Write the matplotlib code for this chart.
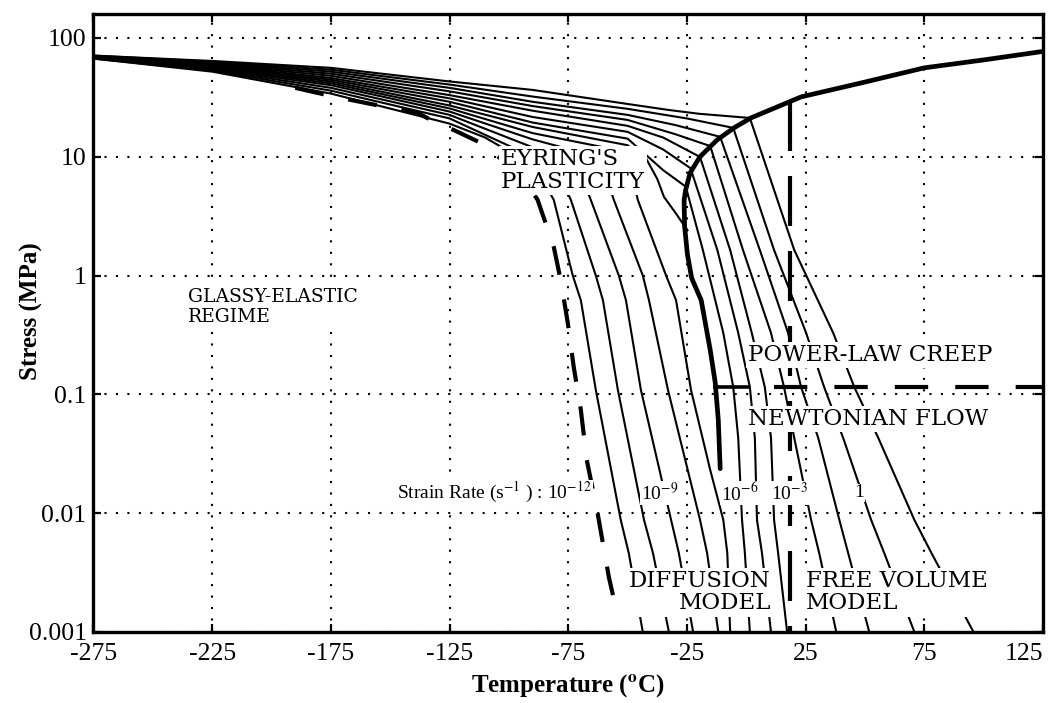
import matplotlib
matplotlib.use("Agg")
import matplotlib.pyplot as plt
from matplotlib.ticker import FixedLocator, FixedFormatter, NullLocator

plt.rcParams['mathtext.fontset'] = 'stix'

# ---------------- data (temperature degC, stress MPa) ----------------
x_ticks = [-275, -225, -175, -125, -75, -25, 25, 75, 125]
x_tick_labels = ["-275", "-225", "-175", "-125", "-75", "-25", "25", "75", "125"]
y_ticks = [0.001, 0.01, 0.1, 1, 10, 100]
y_tick_labels = ["0.001", "0.01", "0.1", "1", "10", "100"]

# thin iso-strain-rate curves, "L" = turn down in the diffusion field
L1_T = [-275, -225, -175, -125, -110, -98, -89, -84, -81.1, -73.1, -69.7, -63.4, -52.9, -49.5, -43.6]
L1_S = [67, 52, 34, 19.0, 14.5, 10.5, 7.2, 5.5, 4.33, 1.0, 0.62, 0.109, 0.0088, 0.0046, 0.001]
L2_T = [-275, -225, -175, -125, -90, -82, -77, -73.9, -63.4, -60.4, -54.1, -43.1, -39.3, -32.6]
L2_S = [67, 53, 36, 21.0, 10.0, 7.8, 5.9, 4.33, 1.0, 0.62, 0.109, 0.0088, 0.0046, 0.001]
L3_T = [-275, -225, -175, -125, -90, -80, -72, -67.8, -65.5, -53.7, -50.7, -44.4, -31.7, -28.4, -22.4]
L3_S = [68, 54, 38, 22.5, 12.0, 10.0, 7.5, 5.7, 4.33, 1.0, 0.62, 0.109, 0.0088, 0.0046, 0.001]
L4_T = [-275, -225, -175, -125, -90, -72, -63, -58.5, -55.8, -43.6, -41.0, -33.0, -19.5, -16.5, -11.8]
L4_S = [68, 55, 40, 24.0, 14.0, 11.2, 8.8, 6.3, 4.33, 1.0, 0.62, 0.109, 0.0088, 0.0046, 0.001]
L5_T = [-275, -225, -175, -125, -90, -60, -52, -48, -45.7, -33.8, -29.6, -23.3, -15.2, -9.7, -8.0, -6.8]
L5_S = [68, 56, 41.5, 25.5, 15.8, 12.0, 9.3, 6.8, 4.33, 1.0, 0.62, 0.109, 0.0231, 0.0088, 0.0046, 0.001]
L6_T = [-275, -225, -175, -125, -90, -50, -42, -37.5, -34.7, -29.5, -24.8]
L6_S = [69, 57, 43, 27.0, 17.8, 12.5, 9.5, 6.5, 4.6, 3.3, 2.4]

# "P" = cross the yield boundary into power-law creep / Newtonian flow
P1_T = [-275, -225, -175, -125, -90, -50, -35, -25.5, -18.3, -9.7, -5.5, -3.4, -1.8, -0.6, 1.5]
P1_S = [69, 58, 44.5, 29, 19.4, 14.2, 7.7, 5.6, 1.64, 0.329, 0.115, 0.043, 0.00877, 0.00462, 0.001]
P2_T = [-275, -225, -175, -125, -90, -50, -35, -23.5, -12.2, -3.4, 1.5, 3.6, 4.5, 6.6, 10.4]
P2_S = [69, 59, 46, 31, 21.6, 16.2, 11.5, 8.0, 1.64, 0.329, 0.115, 0.043, 0.00877, 0.00462, 0.001]
P3_T = [-275, -225, -175, -125, -90, -50, -35, -19.5, -6.8, 2.3, 7.8, 10.4, 11.7, 13.4, 17.2]
P3_S = [70, 60, 48, 33, 24.4, 18.2, 14.5, 9.96, 1.64, 0.329, 0.115, 0.043, 0.00877, 0.00462, 0.001]
P4_T = [-275, -225, -175, -125, -90, -50, -30, -15.2, -1.4, 10.4, 15.9, 20.2, 27.3, 30.7, 37.9]
P4_S = [70, 61, 50, 35.5, 26.7, 20.4, 15.5, 12.3, 1.64, 0.329, 0.115, 0.043, 0.00877, 0.00462, 0.001]
P5_T = [-275, -225, -175, -125, -90, -50, -30, -11.0, 5.7, 17.6, 23.1, 30.3, 39.2, 42.9, 51.8]
P5_S = [70, 62, 52, 38, 29.0, 22.5, 18.5, 14.7, 1.64, 0.329, 0.115, 0.043, 0.00877, 0.00462, 0.001]
P6_T = [-275, -225, -175, -125, -90, -50, -25, -5.5, 11.7, 25.2, 32.8, 40.8, 52.6, 58.1, 70.8]
P6_S = [71, 63, 54, 40.5, 32.1, 25.3, 21.0, 17.5, 1.64, 0.329, 0.115, 0.043, 0.00877, 0.00462, 0.001]
P7_T = [-275, -225, -175, -125, -90, -50, -33, -20, 1.5, 20.2, 36.6, 45.5, 55.6, 70.8, 78.0, 95.7]
P7_S = [71, 64, 56, 43, 36.5, 27.8, 24.8, 23.0, 21.2, 1.64, 0.329, 0.115, 0.043, 0.00877, 0.00462, 0.001]

# thick solid yield boundary
bound_T = [125, 100, 75, 48.4, 23.1, 1.9, -5.2, -12.4, -19.5, -23.7, -25.6, -26.2,
           -26.0, -24.8, -23.0, -19.0, -15.2, -13.1, -11.8, -11.0]
bound_S = [77, 65.3, 56, 41.8, 31.9, 21.2, 17.5, 13.8, 10.0, 7.3, 5.2, 4.33,
           2.6, 1.5, 0.95, 0.62, 0.236, 0.126, 0.061, 0.0237]

# thick dashed boundary (glassy / diffusion)
glass_T = [-190, -175, -155, -138.5, -128.8, -123.3, -111.9, -100, -92, -87.9, -81.1, -78.2,
           -75.2, -72.7, -69.7, -67.2, -62.6, -57.9, -54.1]
glass_S = [38, 32.5, 27, 23.4, 18.5, 16.8, 13.1, 8.5, 5.8, 4.33, 1.74, 0.918,
           0.399, 0.170, 0.074, 0.028, 0.0099, 0.0029, 0.00134]

# power-law creep / Newtonian flow transition
creep_stress = 0.115
creep_solid_T = [-13.1, 0.7]
creep_dash_T = [11.7, 125]
# diffusion / free-volume transition
free_vol_T = 18.5
free_vol_S = [29.5, 0.001]

thin_curves = [(L1_T, L1_S), (L2_T, L2_S), (L3_T, L3_S), (L4_T, L4_S), (L5_T, L5_S), (L6_T, L6_S),
               (P1_T, P1_S), (P2_T, P2_S), (P3_T, P3_S), (P4_T, P4_S), (P5_T, P5_S), (P6_T, P6_S),
               (P7_T, P7_S)]

# ---------------- figure ----------------
fig = plt.figure(figsize=(10.54, 7.03), dpi=100)
ax = fig.add_axes([0.0887, 0.1010, 0.9009, 0.8791])
ax.set_yscale('log')
ax.set_xlim(-275, 125)
ax.set_ylim(0.001, 159)

for T, S in thin_curves:
    ax.plot(T, S, color='black', lw=1.5, solid_joinstyle='round', zorder=3)

ax.plot(bound_T, bound_S, color='black', lw=3.4, solid_joinstyle='round', solid_capstyle='round', zorder=4)
ax.plot(glass_T, glass_S, color='black', lw=3.0, dashes=(7, 6), zorder=4)
ax.plot(creep_solid_T, [creep_stress, creep_stress], color='black', lw=2.6, zorder=4)
ax.plot(creep_dash_T, [creep_stress, creep_stress], color='black', lw=3.0, dashes=(8, 6.5), zorder=4)
ax.plot([free_vol_T, free_vol_T], free_vol_S, color='black', lw=3.0, dashes=(12, 6), zorder=4)

# axes styling
ax.xaxis.set_major_locator(FixedLocator(x_ticks))
ax.xaxis.set_major_formatter(FixedFormatter(x_tick_labels))
ax.yaxis.set_major_locator(FixedLocator(y_ticks))
ax.yaxis.set_major_formatter(FixedFormatter(y_tick_labels))
ax.yaxis.set_minor_locator(NullLocator())
ax.tick_params(axis='both', which='major', direction='in', length=6, width=1.6,
               top=True, right=True, labelsize=18.5)
ax.tick_params(axis='x', pad=8)
ax.tick_params(axis='y', pad=5)
fig.canvas.draw()
for lab in ax.get_xticklabels() + ax.get_yticklabels():
    lab.set_fontfamily('Liberation Serif')
ax.get_xticklabels()[-1].set_horizontalalignment('right')
for sp in ax.spines.values():
    sp.set_linewidth(2.4)
ax.grid(True, which='major', color='black', linestyle=(0, (1, 4.5)), lw=1.5, zorder=1)
ax.set_axisbelow(True)

ax.set_xlabel("Temperature ($\\mathbf{^o}$C)", fontsize=18, fontweight='bold',
              family='Liberation Serif', labelpad=5)
ax.set_ylabel("Stress (MPa)", fontsize=18, fontweight='bold', family='Liberation Serif')
ax.yaxis.set_label_coords(-0.053, 0.52)

box = dict(facecolor='white', edgecolor='none', pad=1.5)
lab_kw = dict(family='DejaVu Serif', fontsize=16.5, color='black', zorder=6, linespacing=1.05)

ax.text(-103.5, 7.7, "EYRING'S\nPLASTICITY", ha='left', va='center', bbox=box, **lab_kw)
ax.text(-235.1, 0.54, "GLASSY-ELASTIC\nREGIME", ha='left', va='center', bbox=box,
        **{**lab_kw, 'fontsize': 13.5, 'linespacing': 1.15})
ax.text(0.7, 0.215, "POWER-LAW CREEP", ha='left', va='center', bbox=box, **lab_kw)
ax.text(0.7, 0.062, "NEWTONIAN FLOW", ha='left', va='center', bbox=box, **lab_kw)
ax.text(10.4, 0.00217, "DIFFUSION\nMODEL", ha='right', va='center', multialignment='right',
        bbox=box, **lab_kw)
ax.text(25.2, 0.00217, "FREE VOLUME\nMODEL", ha='left', va='center', bbox=box, **lab_kw)

sr_kw = dict(family='Liberation Serif', fontsize=14, va='center', ha='left', zorder=6,
             bbox=dict(facecolor='white', edgecolor='none', pad=0.5))
ax.text(-147, 0.0148, "Strain Rate (s$^{-1}$ ) : 10$^{-12}$", **sr_kw)
ax.text(-44.4, 0.0148, "10$^{-9}$", **sr_kw)
ax.text(-10.6, 0.0148, "10$^{-6}$", **sr_kw)
ax.text(10.4, 0.0148, "10$^{-3}$", **sr_kw)
ax.text(45.4, 0.0148, "1", **sr_kw)

fig.savefig("out.png", dpi=100, facecolor='white')
